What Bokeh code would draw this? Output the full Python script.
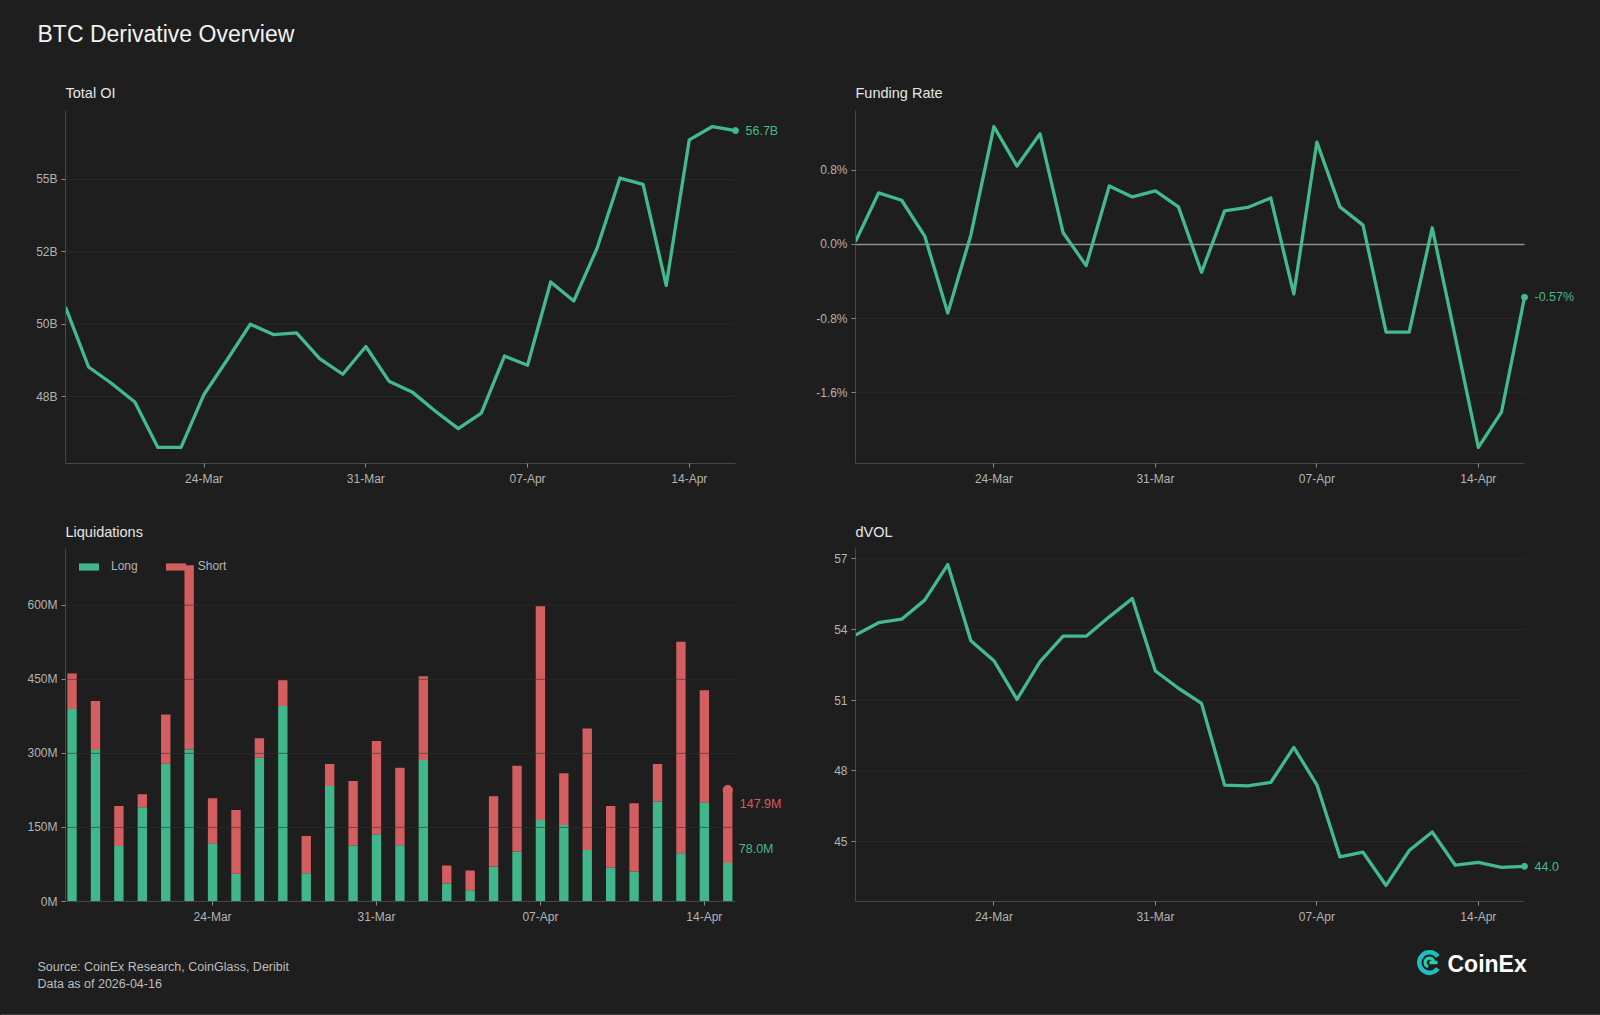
import math
import pandas as pd
from bokeh.plotting import figure
from bokeh.layouts import column, row
from bokeh.models import (Range1d, FixedTicker, CustomJSTickFormatter, Legend, LegendItem,
                          ColumnDataSource)
from bokeh.core.properties import value
from bokeh.embed import file_html
from bokeh.resources import INLINE

# ---------------- data ----------------
line_dates = pd.date_range("2026-03-18", "2026-04-16", freq="D")
bar_dates = pd.date_range("2026-03-18", "2026-04-15", freq="D")

total_oi_b = [50.59, 48.52, 47.95, 47.31, 45.74, 45.74, 47.58, 48.77, 50.00, 49.64,
              49.70, 48.81, 48.27, 49.23, 48.03, 47.66, 47.00, 46.39, 46.93, 48.90,
              48.58, 51.46, 50.80, 52.61, 55.05, 54.83, 51.34, 56.37, 56.83, 56.69]

funding_rate_pct = [0.03, 0.555, 0.476, 0.09, -0.741, 0.10, 1.271, 0.845, 1.193, 0.125,
                    -0.229, 0.630, 0.512, 0.577, 0.405, -0.301, 0.362, 0.398, 0.501, -0.534,
                    1.103, 0.405, 0.208, -0.946, -0.946, 0.179, -1.00, -2.19, -1.81, -0.57]

dvol_index = [53.77, 54.29, 54.44, 55.25, 56.76, 53.53, 52.68, 51.04, 52.64, 53.72,
              53.72, 54.54, 55.32, 52.24, 51.51, 50.87, 47.40, 47.37, 47.51, 49.00,
              47.41, 44.35, 44.55, 43.14, 44.62, 45.41, 44.00, 44.12, 43.91, 43.95]

liq_long_m = [389.7, 306.8, 112.6, 190.8, 279.1, 308.1, 118.0, 56.0, 291.3, 395.8,
              57.3, 233.9, 113.3, 136.2, 113.9, 286.5, 36.4, 22.9, 70.8, 101.1,
              165.2, 155.1, 104.5, 68.8, 60.7, 202.3, 97.8, 200.9, 78.0]
liq_short_m = [72.1, 99.1, 80.9, 26.3, 99.8, 372.8, 91.0, 129.4, 39.1, 52.5,
               75.5, 44.5, 130.8, 188.8, 157.1, 169.9, 36.4, 39.8, 142.2, 174.0,
               432.8, 104.5, 246.1, 124.7, 138.2, 76.1, 428.1, 227.2, 147.9]

date_ticks = ["2026-03-24", "2026-03-31", "2026-04-07", "2026-04-14"]
date_tick_labels = ["24-Mar", "31-Mar", "07-Apr", "14-Apr"]

oi_ticks = [47.5, 50.0, 52.5, 55.0]
oi_tick_labels = ["48B", "50B", "52B", "55B"]
funding_ticks = [-1.6, -0.8, 0.0, 0.8]
funding_tick_labels = ["-1.6%", "-0.8%", "0.0%", "0.8%"]
liq_ticks = [0, 150, 300, 450, 600]
liq_tick_labels = ["0M", "150M", "300M", "450M", "600M"]
dvol_ticks = [45, 48, 51, 54, 57]
dvol_tick_labels = ["45", "48", "51", "54", "57"]

# ---------------- style ----------------
BG = "#1e1e1e"
GREEN = "#43ba8c"
BAR_GREEN = "#40b68a"
RED = "#d45e5f"
GRID = "#313131"
AXIS = "#474747"
TICK = "#8a8a8a"
LABEL = "#b3b3b3"
FONT = "Liberation Sans"
DAY_MS = 86400000.0
LINE_W = 3.3
LABEL_ROOM = 60  # px kept to the right of the data area for end-of-series labels


def to_ms(ts):
    return pd.Timestamp(ts).value / 1e6


line_x = [to_ms(d) for d in line_dates]
bar_x = [to_ms(d) for d in bar_dates]
date_tick_ms = [to_ms(d) for d in date_ticks]


def padded(vals, frac=0.05):
    lo, hi = min(vals), max(vals)
    pad = (hi - lo) * frac
    return lo - pad, hi + pad


def label_formatter(vals, labels):
    return CustomJSTickFormatter(
        args=dict(vals=list(vals), labs=list(labels)),
        code="""
for (let i = 0; i < vals.length; i++) {
  if (Math.abs(vals[i] - tick) <= 1e-9 * Math.max(1, Math.abs(tick))) return labs[i];
}
return "";
""")


def make_panel(left, data_px, height, top, bottom, xr, yr, yticks, ylabels):
    """Panel whose data area is data_px wide, followed by a label strip inside the frame."""
    x_lo, x_hi = xr
    ext = (x_hi - x_lo) * LABEL_ROOM / data_px
    p = figure(width=800, height=height, x_range=Range1d(x_lo, x_hi + ext),
               y_range=Range1d(*yr), toolbar_location=None, tools="", output_backend="svg")
    p.min_border_left = left
    p.min_border_right = 800 - left - data_px - LABEL_ROOM
    p.min_border_top = top
    p.min_border_bottom = bottom
    p.background_fill_color = BG
    p.border_fill_color = BG
    p.outline_line_color = None
    p.grid.visible = False
    p.xaxis.bounds = (x_lo, x_hi)
    p.xaxis.ticker = FixedTicker(ticks=date_tick_ms)
    p.xaxis.formatter = label_formatter(date_tick_ms, date_tick_labels)
    p.yaxis.ticker = FixedTicker(ticks=list(yticks))
    p.yaxis.formatter = label_formatter(yticks, ylabels)
    for ax in (p.xaxis[0], p.yaxis[0]):
        ax.axis_line_color = AXIS
        ax.axis_line_width = 1
        ax.major_tick_line_color = TICK
        ax.major_tick_out = 4
        ax.major_tick_in = 0
        ax.minor_tick_out = 0
        ax.minor_tick_in = 0
        ax.major_label_text_color = LABEL
        ax.major_label_text_font = FONT
        ax.major_label_text_font_size = "12px"
        ax.major_label_standoff = 4
    return p


def grid_lines(p, xr, yticks):
    n = len(yticks)
    p.segment(x0=[xr[0]] * n, x1=[xr[1]] * n, y0=list(yticks), y1=list(yticks),
              line_color=GRID, line_alpha=0.6, line_width=1)


def end_label(p, x, y, text, color, x_offset=10, y_offset=0):
    p.text(x=[x], y=[y], text=[text], x_offset=x_offset, y_offset=y_offset,
           text_baseline="middle", text_align="left", text_color=color,
           text_font=value(FONT), text_font_size="12.5px")


def text_strip(height):
    p = figure(width=1600, height=height, x_range=Range1d(0, 1600), y_range=Range1d(height, 0),
               toolbar_location=None, tools="", output_backend="svg",
               x_axis_location=None, y_axis_location=None, min_border=0)
    p.background_fill_color = BG
    p.border_fill_color = BG
    p.outline_line_color = None
    p.grid.visible = False
    return p


def put_text(p, x, y, s, size, color, style="normal"):
    p.text(x=[x], y=[y], text=[s], text_font=value(FONT), text_font_size=size,
           text_color=color, text_align="left", text_baseline="middle", text_font_style=style)


line_xr = (line_x[0], line_x[-1])

# ---------------- Total OI ----------------
p_oi = make_panel(65, 670, 402, 7, 42, line_xr, padded(total_oi_b), oi_ticks, oi_tick_labels)
grid_lines(p_oi, line_xr, oi_ticks)
p_oi.line(line_x, total_oi_b, line_color=GREEN, line_width=LINE_W, line_join="round")
p_oi.scatter([line_x[-1]], [total_oi_b[-1]], size=6, color=GREEN)
end_label(p_oi, line_x[-1], total_oi_b[-1], f"{total_oi_b[-1]:.1f}B", GREEN)

# ---------------- Funding Rate ----------------
p_fr = make_panel(55, 669, 402, 7, 42, line_xr, padded(funding_rate_pct),
                  funding_ticks, funding_tick_labels)
grid_lines(p_fr, line_xr, funding_ticks)
p_fr.segment(x0=[line_xr[0]], x1=[line_xr[1]], y0=[0], y1=[0],
             line_color="#8e8e8e", line_width=1.5)
p_fr.line(line_x, funding_rate_pct, line_color=GREEN, line_width=LINE_W, line_join="round")
p_fr.scatter([line_x[-1]], [funding_rate_pct[-1]], size=6, color=GREEN)
end_label(p_fr, line_x[-1], funding_rate_pct[-1], f"{funding_rate_pct[-1]:.2f}%", GREEN)

# ---------------- Liquidations ----------------
liq_total = [a + b for a, b in zip(liq_long_m, liq_short_m)]
liq_src = ColumnDataSource(dict(x=bar_x, long=liq_long_m, total=liq_total))
liq_xr = (bar_x[0] - 0.28 * DAY_MS, bar_x[-1] + 0.33 * DAY_MS)
p_lq = make_panel(65, 670, 405, 8, 44, liq_xr, (0, max(liq_total) * 1.05),
                  liq_ticks, liq_tick_labels)
bar_w = 0.4 * DAY_MS
r_long = p_lq.vbar(x="x", top="long", bottom=0, width=bar_w, source=liq_src,
                   fill_color=BAR_GREEN, line_color=None)
r_short = p_lq.vbar(x="x", top="total", bottom="long", width=bar_w, source=liq_src,
                    fill_color=RED, line_color=None)
p_lq.scatter([bar_x[-1]], [liq_total[-1]], size=9.3, color=RED)
grid_lines(p_lq, liq_xr, liq_ticks)
end_label(p_lq, bar_x[-1], liq_total[-1], f"{liq_short_m[-1]:.1f}M", RED,
          x_offset=12, y_offset=14)
end_label(p_lq, bar_x[-1], liq_long_m[-1], f"{liq_long_m[-1]:.1f}M", GREEN,
          x_offset=11, y_offset=-14)
legend = Legend(items=[LegendItem(label="Long", renderers=[r_long]),
                       LegendItem(label="Short", renderers=[r_short])],
                location="top_left", orientation="horizontal",
                background_fill_alpha=0, border_line_alpha=0,
                label_text_color=LABEL, label_text_font=FONT, label_text_font_size="12px",
                glyph_width=25, glyph_height=9, label_height=9, label_standoff=10,
                spacing=25, padding=11, margin=0)
p_lq.add_layout(legend)

# ---------------- dVOL ----------------
p_dv = make_panel(55, 669, 405, 8, 44, line_xr, padded(dvol_index), dvol_ticks, dvol_tick_labels)
grid_lines(p_dv, line_xr, dvol_ticks)
p_dv.line(line_x, dvol_index, line_color=GREEN, line_width=LINE_W, line_join="round")
p_dv.scatter([line_x[-1]], [dvol_index[-1]], size=6, color=GREEN)
end_label(p_dv, line_x[-1], dvol_index[-1], f"{dvol_index[-1]:.1f}", GREEN)

# ---------------- headings and footer ----------------
header = text_strip(103)
put_text(header, 37, 33.5, "BTC Derivative Overview", "23px", "#f2f2f2")
put_text(header, 65, 92.5, "Total OI", "14.5px", "#e6e6e6")
put_text(header, 855, 92.5, "Funding Rate", "14.5px", "#e6e6e6")

middle = text_strip(35)
put_text(middle, 65, 26.5, "Liquidations", "14.5px", "#e6e6e6")
put_text(middle, 855, 26.5, "dVOL", "14.5px", "#e6e6e6")

footer = text_strip(70)
put_text(footer, 37, 21, "Source: CoinEx Research, CoinGlass, Deribit", "12.5px", "#bdbdbd")
put_text(footer, 37, 38.5, "Data as of 2026-04-16", "12.5px", "#bdbdbd")
# CoinEx mark: open ring with an inner hook, then the word mark
footer.annular_wedge(x=[1429], y=[17], inner_radius=8, outer_radius=12.5,
                     start_angle=0.62, end_angle=2 * math.pi - 0.62,
                     fill_color="#1dbfc0", line_color=None)
footer.annular_wedge(x=[1429], y=[17], inner_radius=2.8, outer_radius=6,
                     start_angle=0.3, end_angle=4.4,
                     fill_color="#27d0a8", line_color=None)
footer.quad(left=[1429], right=[1437], top=[15.3], bottom=[18.7],
            fill_color="#27d0a8", line_color=None)
put_text(footer, 1447, 18.5, "CoinEx", "23px", "#ffffff", "bold")
footer.quad(left=[0], right=[1600], top=[68.6], bottom=[70], fill_color="#3b3b3b",
            line_color=None)

layout = column(header, row(p_oi, p_fr, styles={"background-color": BG}), middle,
                row(p_lq, p_dv, styles={"background-color": BG}), footer,
                styles={"background-color": BG})

with open("out.html", "w") as f:
    f.write(file_html(layout, INLINE, title="BTC Derivative Overview"))
